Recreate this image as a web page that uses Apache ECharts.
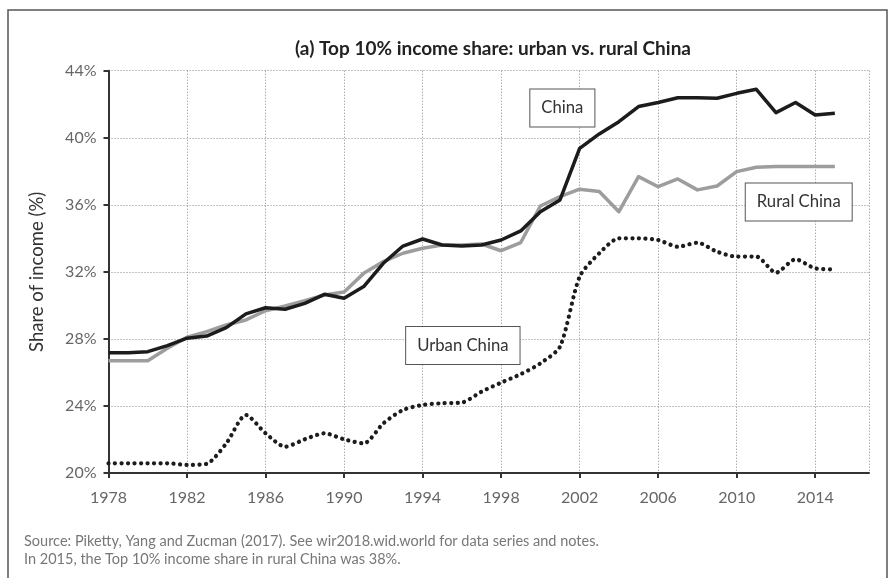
<!DOCTYPE html>
<html>
<head>
<meta charset="utf-8">
<script src="https://cdn.jsdelivr.net/npm/echarts@6/dist/echarts.min.js"></script>
<style>
html,body{margin:0;padding:0;background:#fff;}
#chart{width:888px;height:578px;}
</style>
</head>
<body>
<div id="chart"></div>
<script>
const years = [1978,1979,1980,1981,1982,1983,1984,1985,1986,1987,1988,1989,1990,1991,1992,1993,1994,1995,1996,1997,1998,1999,2000,2001,2002,2003,2004,2005,2006,2007,2008,2009,2010,2011,2012,2013,2014,2015];
const china = [27.18,27.18,27.24,27.6,28.04,28.17,28.67,29.49,29.86,29.77,30.12,30.66,30.42,31.12,32.51,33.54,33.96,33.6,33.54,33.6,33.9,34.44,35.59,36.29,39.37,40.23,40.96,41.86,42.1,42.39,42.39,42.36,42.65,42.89,41.5,42.1,41.36,41.46];
const rural = [26.7,26.7,26.7,27.44,28.1,28.43,28.83,29.13,29.68,29.96,30.28,30.62,30.8,31.91,32.61,33.11,33.41,33.6,33.6,33.66,33.26,33.75,35.93,36.49,36.93,36.79,35.59,37.68,37.08,37.54,36.89,37.12,37.98,38.24,38.28,38.28,38.28,38.28];
const urban = [20.58,20.58,20.58,20.58,20.48,20.55,21.77,23.46,22.37,21.57,22.01,22.37,22.01,21.77,22.96,23.76,24.06,24.16,24.2,24.85,25.39,25.9,26.54,27.54,31.71,33.11,34.0,34.0,33.9,33.5,33.74,33.2,32.91,32.91,31.95,32.75,32.21,32.15];
const seriesNames = ['China','Rural China','Urban China'];
const titleText = '(a) Top 10% income share: urban vs. rural China';
const yAxisName = 'Share of income (%)';
const sourceLines = ['Source: Piketty, Yang and Zucman (2017). See wir2018.wid.world for data series and notes.', 'In 2015, the Top 10% income share in rural China was 38%.'];
// label anchors in data space [year, share]
const labelAnchors = { 'China': [2001.12, 41.78], 'Rural China': [2013.16, 36.17], 'Urban China': [1996.05, 27.6] };

const FONT = 'Lato, "Open Sans", sans-serif';
const pair = arr => years.map((y, i) => [y, arr[i]]);

const chart = echarts.init(document.getElementById('chart'), null, {renderer: 'canvas'});
const option = {
  animation: false,
  backgroundColor: '#fff',
  title: {
    text: titleText,
    left: 488, top: 34, textAlign: 'center',
    textStyle: { fontFamily: FONT, fontSize: 19, fontWeight: 'bold', color: '#222' }
  },
  grid: { left: 108.5, right: 19, top: 70.7, bottom: 105, containLabel: false },
  xAxis: {
    type: 'value', min: 1978, max: 2016.74, interval: 4,
    axisLine: { show: true, onZero: false, lineStyle: { color: '#333', width: 2 } },
    axisTick: { show: true, length: 5, lineStyle: { color: '#333', width: 2 } },
    axisLabel: { margin: 17, color: '#666', fontFamily: FONT, fontSize: 16, formatter: v => String(v), showMaxLabel: false },
    splitLine: { show: true, lineStyle: { color: '#888', width: 1, type: [1, 2] } }
  },
  yAxis: {
    type: 'value', min: 20, max: 44, interval: 4,
    name: yAxisName, nameLocation: 'middle', nameGap: 62,
    nameTextStyle: { fontFamily: FONT, fontSize: 18.5, color: '#333' },
    axisLine: { show: true, lineStyle: { color: '#333', width: 2 } },
    axisTick: { show: true, length: 5, lineStyle: { color: '#333', width: 2 } },
    axisLabel: { margin: 12, color: '#666', fontFamily: FONT, fontSize: 16, formatter: '{value}%' },
    splitLine: { show: true, lineStyle: { color: '#888', width: 1, type: [1, 2] } }
  },
  series: [
    { name: seriesNames[1], type: 'line', data: pair(rural), showSymbol: false, symbol: 'none',
      lineStyle: { color: '#9d9d9d', width: 3.5, join: 'round' }, z: 2 },
    { name: seriesNames[0], type: 'line', data: pair(china), showSymbol: false, symbol: 'none',
      lineStyle: { color: '#1c1c1c', width: 3.5, join: 'round' }, z: 3 },
    { name: seriesNames[2], type: 'line', data: pair(urban), showSymbol: false, symbol: 'none', smooth: 0.25,
      lineStyle: { color: '#1c1c1c', width: 4.2, type: [0.1, 6.4], cap: 'round' }, z: 4 }
  ]
};
chart.setOption(option);

const graphics = [
  { type: 'rect', shape: { x: 8, y: 10, width: 879, height: 620 }, style: { fill: 'none', stroke: '#555', lineWidth: 1.5 }, silent: true, z: 0 }
];
sourceLines.forEach((t, i) => {
  graphics.push({ type: 'text', left: 24, top: 534 + i * 18.3, style: { text: t, fontFamily: FONT, fontSize: 14.5, fill: '#777' } });
});
seriesNames.forEach(name => {
  const p = chart.convertToPixel({ gridIndex: 0 }, labelAnchors[name]);
  graphics.push({ type: 'text', x: p[0], y: p[1], z: 10,
    style: { text: name, fontFamily: FONT, fontSize: 16.7, fill: '#333', align: 'center', verticalAlign: 'middle',
      backgroundColor: '#fff', borderColor: '#555', borderWidth: 1, padding: [10, 11] } });
});
chart.setOption({ graphic: graphics });
</script>
</body>
</html>
